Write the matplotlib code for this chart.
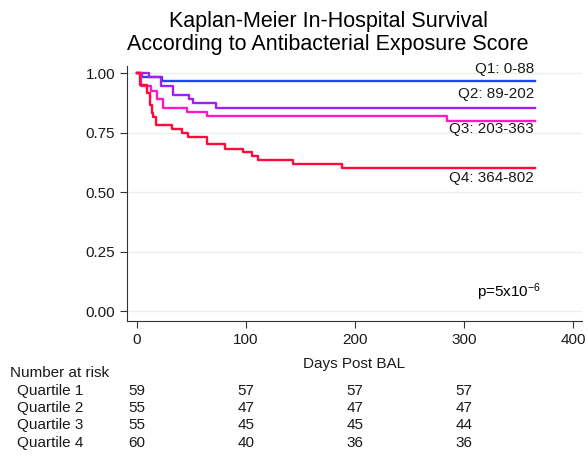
import numpy as np
import matplotlib.pyplot as plt

plt.rcParams['font.family'] = ['Liberation Sans', 'DejaVu Sans']
plt.rcParams['mathtext.fontset'] = 'custom'
plt.rcParams['mathtext.rm'] = 'Liberation Sans'
plt.rcParams['mathtext.default'] = 'regular'

# survival steps (day, survival)
q1_days = [0, 5, 23, 365]
q1_surv = [1.0, 0.983, 0.966, 0.966]

q2_days = [0, 11, 22, 33, 48, 51, 72, 365]
q2_surv = [1.0, 0.982, 0.945, 0.909, 0.891, 0.873, 0.855, 0.855]

q3_days = [0, 4, 12.5, 18, 24, 46, 64, 284, 365]
q3_surv = [1.0, 0.945, 0.927, 0.891, 0.855, 0.836, 0.818, 0.80, 0.80]

q4_days = [0, 3, 9, 12, 13.5, 14.7, 17.4, 32, 41, 47, 64, 81, 97, 105, 111, 143, 188, 365]
q4_surv = [1.0, 0.95, 0.917, 0.867, 0.833, 0.817, 0.783, 0.767, 0.75, 0.733, 0.70,
           0.683, 0.667, 0.65, 0.633, 0.617, 0.60, 0.60]

labels = ['Q1: 0-88', 'Q2: 89-202', 'Q3: 203-363', 'Q4: 364-802']
label_y = [1.017, 0.912, 0.765, 0.559]
colors = ['#1f45fc', '#a020f0', '#ff17c8', '#ff0a3c']

risk_times = [0, 100, 200, 300]
risk_names = ['Quartile 1', 'Quartile 2', 'Quartile 3', 'Quartile 4']
risk_q1 = [59, 57, 57, 57]
risk_q2 = [55, 47, 47, 47]
risk_q3 = [55, 45, 45, 44]
risk_q4 = [60, 40, 36, 36]

fig = plt.figure(figsize=(5.88, 4.57), dpi=100)
ax = fig.add_axes([127/588, 136/457, 455/588, 255/457])

grey = '#333333'
txt = '#1a1a1a'
fs = 11
for yv in [0, 0.25, 0.5, 0.75, 1.0]:
    ax.axhline(yv, color='#eaf0f0', lw=1, zorder=0)

curves = [(q1_days, q1_surv), (q2_days, q2_surv), (q3_days, q3_surv), (q4_days, q4_surv)]
for (d, s), c in zip(curves, colors):
    ax.step(d, s, where='post', color=c, lw=1.7)

for lab, yv in zip(labels, label_y):
    ax.text(364, yv, lab, ha='right', va='center', fontsize=fs, color=txt)

ax.text(312, 0.08, 'p=5x10$^{-6}$', ha='left', va='center', fontsize=fs, color='black')

ax.set_xlim(-9.2, 408)
ax.set_ylim(-0.042, 1.03)
ax.set_xticks([0, 100, 200, 300, 400])
ax.set_yticks([0, 0.25, 0.5, 0.75, 1.0])
ax.set_yticklabels(['0.00', '0.25', '0.50', '0.75', '1.00'])
ax.spines['top'].set_visible(False)
ax.spines['right'].set_visible(False)
for sp in ['left', 'bottom']:
    ax.spines[sp].set_color(grey)
ax.tick_params(colors=grey, labelcolor=txt, labelsize=fs, length=5)
ax.set_xlabel('Days Post BAL', fontsize=fs, color=txt, labelpad=7)

fig.text(0.558, 0.975, 'Kaplan-Meier In-Hospital Survival\nAccording to Antibacterial Exposure Score',
         ha='center', va='top', fontsize=15.5, linespacing=1.12)

# number at risk table
fig.text(10/588, 1 - 373/457, 'Number at risk', ha='left', va='center', fontsize=fs, color=txt)
rows = [risk_q1, risk_q2, risk_q3, risk_q4]
for i, (name, vals) in enumerate(zip(risk_names, rows)):
    yf = 1 - (391 + 17.2*i)/457
    fig.text(17/588, yf, name, ha='left', va='center', fontsize=fs, color=txt)
    for t, v in zip(risk_times, vals):
        xf = ax.transData.transform((t, 0))[0] / fig.bbox.width
        fig.text(xf, yf, str(v), ha='center', va='center', fontsize=fs, color=txt)

fig.savefig('out.png', dpi=100)
